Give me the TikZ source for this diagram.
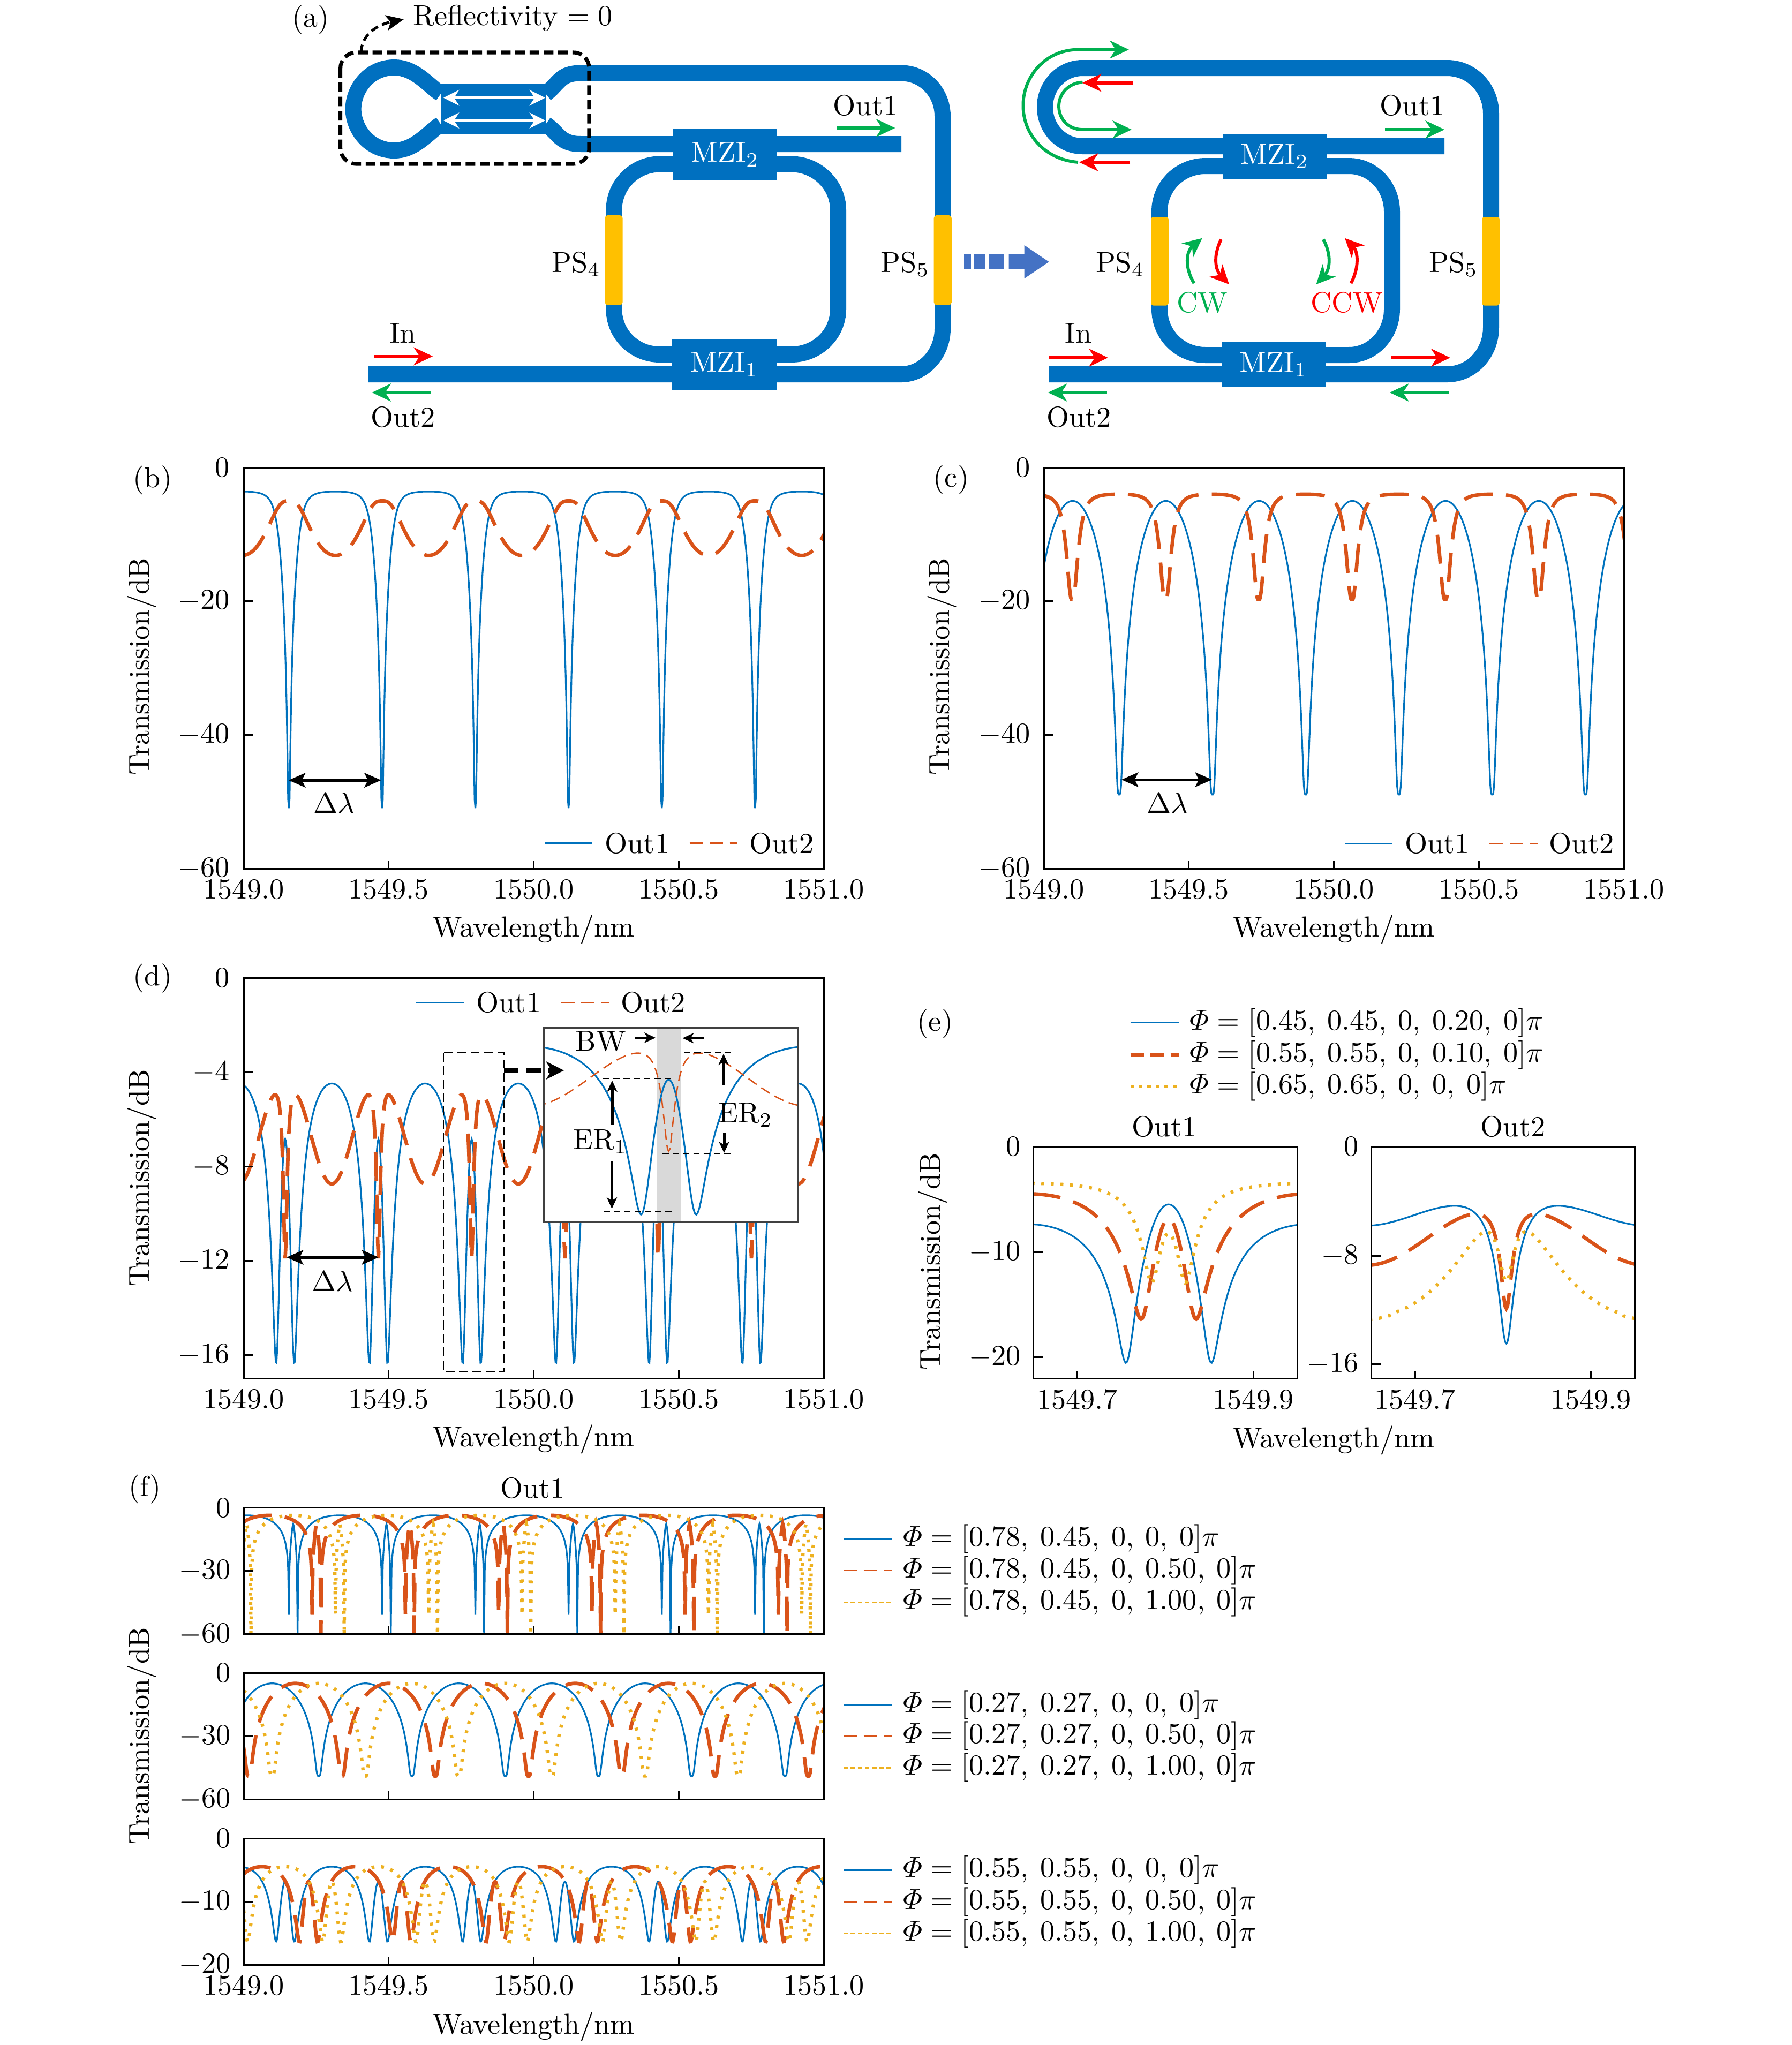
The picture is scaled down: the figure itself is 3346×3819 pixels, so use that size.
\documentclass[tikz,border=0pt]{standalone}
\usepackage{amsmath}
\usetikzlibrary{arrows.meta}
\definecolor{wgblue}{HTML}{0070C0}
\definecolor{psgold}{HTML}{FFC000}
\definecolor{bigblue}{HTML}{4472C4}
\definecolor{flowgreen}{HTML}{00B050}
\definecolor{plotb}{HTML}{0072BD}
\definecolor{plotr}{HTML}{D95319}
\definecolor{ploty}{HTML}{EDB120}
\tikzset{
  wg/.style={wgblue,line width=7.2pt},
  mzibox/.style={fill=wgblue,text=white},
  flow/.style={line width=1.4pt,-{Stealth[length=8.5pt,width=8pt,inset=2.6pt]}},
  axline/.style={black,line width=0.72pt},
  curveb/.style={plotb,line width=0.75pt},
  curver/.style={plotr,line width=1.6pt,dash pattern=on 13pt off 6pt},
  curvey/.style={ploty,line width=1.5pt,dash pattern=on 1.3pt off 3pt},
  legb/.style={plotb,line width=0.7pt},
  legr/.style={plotr,line width=0.7pt,dash pattern=on 6pt off 3pt},
  legy/.style={ploty,line width=0.7pt,dash pattern=on 2pt off 1.2pt},
  legrthick/.style={plotr,line width=1.6pt,dash pattern=on 6pt off 3pt},
  legythick/.style={ploty,line width=1.6pt,dash pattern=on 1.6pt off 2.2pt},
  dimarrow/.style={black,line width=1.2pt,{Stealth[length=7.5pt,width=6.5pt,inset=1.6pt]}-{Stealth[length=7.5pt,width=6.5pt,inset=1.6pt]}},
  erarrow/.style={black,line width=1.2pt,-{Stealth[length=5pt,width=4.6pt,inset=1.4pt]}},
  thindash/.style={black,line width=0.5pt,dash pattern=on 2.8pt off 1.8pt}
}
% one whole plot trace, index 0..1594 runs over 1549..1551 nm
\newcommand{\trace}[2]{\draw[#1] plot[domain=0:1594,samples=798] ({\x/796.2},{#2});}
\newcommand{\zoomtrace}[2]{\draw[#1] plot[domain=516:758,samples=243] ({\x/796.2},{#2});}
\newcommand{\xaxisnm}[3]{%
  \foreach \k/\lab in {0/1549.0,1/1549.5,2/1550.0,3/1550.5,4/1551.0}{
    \pgfmathsetmacro{\tx}{#2+270.75*\k}
    \node (#1x\k) at (\tx,#3+39) {\lab};
    \ifnum\k>0 \ifnum\k<4 \draw[axline] (\tx,#3) -- (\tx,#3-15); \fi\fi
  }
}
\newcommand{\xticksonly}[2]{%
  \foreach \k in {1,2,3}{\draw[axline] ({#1+270.75*\k},#2) -- ({#1+270.75*\k},#2-15);}
}
\newcommand{\yaxisdb}[4]{%
  \foreach \ty/\lab/\tk in {#4}{
    \node[anchor=east] (#1y\ty) at ({#2-#3},\ty) {$\lab$};
    \ifnum\tk=1 \draw[axline] (#2,\ty) -- ({#2+18},\ty); \fi
  }
}
\newcommand{\outlegend}[3]{%
  \draw[legb] (#2,#3) -- ({#2+89},#3);
  \node[anchor=west] (#1one) at ({#2+111.6},#3) {Out1};
  \draw[legr] ({#2+270.5},#3) -- ({#2+360},#3);
  \node[anchor=west] (#1two) at ({#2+381},#3) {Out2};
}
\newcommand{\cg}{,\kern2.3pt}
\newcommand{\phirow}[5]{%
  \draw[#4] (#2,#3) -- ({#2+91},#3);
  \node[anchor=west] (#1) at ({#2+110},#3) {$\varPhi=#5\pi$};
}
\begin{document}
\begin{tikzpicture}[x=0.24pt,y=-0.24pt,
  every node/.style={transform shape,scale=1.3,inner sep=0pt},
  declare function={
    sqq(\q)=\q*\q;
    uu(\x,\m)=sqq(sin(0.703125*(\x-\m)));
    side(\x,\m)=ifthenelse(sin(1.40625*(\x-\m))>0,.0003,.0027);
    blueB(\q)=-33.6+10*log10(1054.7*\q*\q/(\q*\q+.0547)+.018);
    redB(\q)=-5+10*log10(.178/(\q*sqrt(\q)+.178));
    blueC(\q)=-35+10*log10(1000*\q*\q+.04);
    redC(\q)=-4+10*log10(1.065*(\q*sqrt(\q)+.00166)/(\q*sqrt(\q)+.0666));
    blueD(\q)=-34.5+10*log10(1968*((\q-.0767)*(\q-.0767)+.003)/(\q*\q+.648*\q+.03));
    redD(\q)=-4+10*log10((.34+.66*(1-\q)*(.6+.4*(1-\q)))*(\q+.0027)/(\q+.0168));
    blueEa(\q)=-37.4+10*log10(2290*((\q-.2)*(\q-.2)+.004)/(\q*\q+.4*\q+.065));
    yelEa(\q)=-33.5+10*log10(1142.8*((\q-.0271)*(\q-.0271)+.00088)/(\q*\q+.077*\q+.0055));
    blueEb(\q)=-3+10*log10((.55+.45*(1-\q))*(\q+.0042)/(\q+.06));
    yelEb(\q)=-3.4+10*log10(.136/(\q+.136)*(\q+.0067)/(\q+.03));
    dipF(\q,\e)=-43.6+10*log10((sqq(100*(\q-.02153))+\e)/(\q*\q+1.65*\q+.0033)*2.78);
  }]
\useasboundingbox (0,0) rectangle (3346,3819);

% (a) left device
\node (tagA) at (580,37) {(a)};
\draw[wg] (823,175) .. controls (800,160) and (775,126) .. (736,126) .. controls (690,126) and (660,165) .. (659.6,203.6) .. controls (660,242) and (690,281) .. (736,281) .. controls (775,281) and (800,247) .. (823,232);
\fill[wgblue] (823,156) rectangle (1019.6,250);
\draw[wg] (1019,175) .. controls (1045,155) and (1045,136.5) .. (1085,136.5) -- (1683,136.5) .. controls (1725,136.5) and (1760,172) .. (1760,217) -- (1760,614) .. controls (1760,660) and (1725,699) .. (1683,699) -- (687.5,699);
\draw[wg] (1019,232) .. controls (1045,250) and (1045,269) .. (1085,269) -- (1683,269);
\draw[wg] (1257,306.5) -- (1232,306.5) .. controls (1185,306.5) and (1146.4,345) .. (1146.4,392) -- (1146.4,577) .. controls (1146.4,625) and (1185,662) .. (1232,662) -- (1255,662);
\draw[wg] (1451,306.5) -- (1478,306.5) .. controls (1525,306.5) and (1565,345) .. (1565,392) -- (1565,577) .. controls (1565,625) and (1525,662) .. (1478,662) -- (1450,662);
\draw[white,line width=1.3pt,{Stealth[length=7pt,width=7pt]}-{Stealth[length=7pt,width=7pt]}] (828,182.6) -- (1018,182.6);
\draw[white,line width=1.3pt,{Stealth[length=7pt,width=7pt]}-{Stealth[length=7pt,width=7pt]}] (828,225) -- (1018,225);
\node[mzibox,minimum width=35.85pt,minimum height=17.54pt] (mziTwoL) at (1354,288.5) {MZI$_2$};
\node[mzibox,minimum width=36pt,minimum height=17.54pt] (mziOneL) at (1352.5,680.5) {MZI$_1$};
\fill[psgold,rounded corners=1.2pt] (1129.5,402) rectangle (1162.5,569.6);
\fill[psgold,rounded corners=1.2pt] (1743.7,402) rectangle (1776.8,569.6);
\draw[black,line width=1.7pt,dash pattern=on 4.3pt off 2.1pt,rounded corners=7pt] (635.7,98) rectangle (1100,306);
\draw[black,line width=1.2pt,dash pattern=on 3.5pt off 2pt,-{Stealth[length=8pt,width=7pt,inset=2pt]}] (674,98) .. controls (676,60) and (710,45) .. (754,36);
\node[anchor=west] (reflect) at (770.5,34.4) {Reflectivity $=0$};
\node (psFourL) at (1076,493) {PS$_4$};
\node (psFiveL) at (1690,493) {PS$_5$};
\node (outOneL) at (1616,197) {Out1};
\node (inL) at (752,622) {In};
\node (outTwoL) at (752.7,779) {Out2};
\draw[flow,flowgreen] (1562.5,239) -- (1671.4,239);
\draw[flow,red] (698,665.4) -- (808,665.4);
\draw[flow,flowgreen] (805,733) -- (694.6,733);

% dashed block arrow
\foreach \xa/\xb in {1799.5/1812.5,1818.6/1840,1847/1874.4}{
  \fill[bigblue] (\xa,475) rectangle (\xb,502.4);
}
\fill[bigblue] (1883.6,475) -- (1912.7,475) -- (1912.7,458) -- (1958.6,489) -- (1912.7,520) -- (1912.7,502.4) -- (1883.6,502.4) -- cycle;

% (a) right device
\draw[wg] (2697,273) -- (2021,273) .. controls (1982,273) and (1951,240) .. (1951,200) .. controls (1951,160) and (1982,127) .. (2021,127) -- (2702,127) .. controls (2748,127) and (2784,165) .. (2784,212) -- (2784,611) .. controls (2784,660) and (2748,699) .. (2702,699) -- (1958.6,699);
\draw[wg] (2284,310) -- (2251,310) .. controls (2203,310) and (2165,348) .. (2165,395) -- (2165,577) .. controls (2165,625) and (2203,663) .. (2251,663) -- (2282,663);
\draw[wg] (2476,310) -- (2518.7,310) .. controls (2563,310) and (2599,348) .. (2599,395) -- (2599,577) .. controls (2599,625) and (2563,663) .. (2518.7,663) -- (2475,663);
\node[mzibox,minimum width=35.6pt,minimum height=15.54pt] (mziTwoR) at (2380.2,292) {MZI$_2$};
\node[mzibox,minimum width=35.7pt,minimum height=15.46pt] (mziOneR) at (2378,680.8) {MZI$_1$};
\fill[psgold,rounded corners=1.2pt] (2149,405) rectangle (2182,570.7);
\fill[psgold,rounded corners=1.2pt] (2767,405) rectangle (2800,570.7);
\node (psFourR) at (2091.7,493) {PS$_4$};
\node (psFiveR) at (2713.8,493) {PS$_5$};
\node (outOneR) at (2637,197) {Out1};
\node (inR) at (2013.7,622) {In};
\node (outTwoR) at (2014.5,779) {Out2};
\node[text=flowgreen] (cwL) at (2244.8,565) {CW};
\node[text=red] (ccwL) at (2514.8,565) {CCW};
\draw[flow,flowgreen] (2586,242) -- (2697,242);
\draw[flow,red] (1958.6,668) -- (2068.8,668);
\draw[flow,flowgreen] (2067,733) -- (1957,733);
\draw[flow,red] (2597.5,668) -- (2707.7,668);
\draw[flow,flowgreen] (2706,733) -- (2595,733);
\draw[flow,flowgreen] (2013,303) .. controls (1950,298) and (1910,250) .. (1910.4,197) .. controls (1910,145) and (1950,93) .. (2013,92.6) -- (2107.8,92.6);
\draw[flow,flowgreen] (2021.4,153.5) .. controls (1995,155) and (1977,175) .. (1977,198.5) .. controls (1977,222) and (1995,242) .. (2021,242) -- (2113,242);
\draw[flow,red] (2116,154.6) -- (2021,154.6);
\draw[flow,red] (2110,303) -- (2015,303);
\draw[flow,flowgreen] (2229.5,529) .. controls (2212,500) and (2214,470) .. (2244.8,444.7);
\draw[flow,red] (2280,447) .. controls (2264,480) and (2270,505) .. (2295,531);
\draw[flow,flowgreen] (2471,447) .. controls (2488,480) and (2482,505) .. (2457.5,531);
\draw[flow,red] (2522.5,529) .. controls (2538,500) and (2536,470) .. (2511,444.7);

% (b)
\node (tagB) at (285,897) {(b)};
\begin{scope}[shift={(455,873)},x=129.96pt,y=2.995pt]
  \clip (0,0) rectangle (2,-60);
  \trace{curveb}{blueB(uu(\x,124))}
  \draw[curver] plot[domain=0:1596,samples=400] ({\x/796.2},{redB(uu(\x,124))});
\end{scope}
\draw[axline] (455,873) rectangle (1538,1622);
\xaxisnm{b}{455}{1622}
\yaxisdb{b}{455}{25}{873/0/0,1122.6/-20/1,1372/-40/1,1622/-60/0}
\node[rotate=90] (ylabB) at (265,1245) {Transmission/dB};
\node (xlabB) at (996,1736) {Wavelength/nm};
\outlegend{legB}{1017}{1574.5}
\draw[dimarrow] (539,1457) -- (711.6,1457);
\node (fsrB) at (624,1500) {$\Delta\lambda$};

% (c)
\node (tagC) at (1776,896) {(c)};
\begin{scope}[shift={(1949,873)},x=129.96pt,y=2.995pt]
  \clip (0,0) rectangle (2,-60);
  \trace{curveb}{blueC(uu(\x,207))}
  \trace{curver}{redC(uu(\x,78))}
\end{scope}
\draw[axline] (1949,873) rectangle (3032,1622);
\xaxisnm{c}{1949}{1622}
\yaxisdb{c}{1949}{24}{873/0/0,1122.6/-20/1,1372/-40/1,1622/-60/0}
\node[rotate=90] (ylabC) at (1759,1245) {Transmission/dB};
\node (xlabC) at (2490,1736) {Wavelength/nm};
\outlegend{legC}{2510.7}{1575}
\draw[dimarrow] (2094,1456) -- (2263,1456);
\node (fsrC) at (2179.5,1500) {$\Delta\lambda$};

% (d)
\node (tagD) at (285,1827) {(d)};
\begin{scope}[shift={(455,1826)},x=129.96pt,y=10.56pt]
  \clip (0,0) rectangle (2,-17);
  \trace{curveb}{blueD(uu(\x,114))}
  \trace{curver}{redD(uu(\x,114))}
\end{scope}
\draw[axline] (455,1826) rectangle (1538,2574);
\xaxisnm{d}{455}{2574}
\yaxisdb{d}{455}{25}{1826/0/0,2002/-4/1,2178/-8/1,2354/-12/1,2530.6/-16/1}
\node[rotate=90] (ylabD) at (265,2200) {Transmission/dB};
\node (xlabD) at (996,2688) {Wavelength/nm};
\outlegend{legD}{777}{1872}
\draw[dimarrow] (535,2348) -- (707,2348);
\node (fsrD) at (621,2393) {$\Delta\lambda$};
\draw[black,line width=0.5pt,dash pattern=on 4pt off 2pt] (827.7,1966) rectangle (941,2561.5);
% inset of (d)
\fill[white] (1015,1919) rectangle (1490.8,2281);
\fill[gray!30] (1225.5,1919) rectangle (1272,2281);
\begin{scope}[shift={(1248.5,1835.6)},x=394.8pt,y=6.336pt]
  \clip (-0.14195,-3.159) rectangle (0.1473,-16.87);
  \draw[curveb] plot[domain=-120:120,samples=241] ({\x/796.2},{blueD(uu(\x,0))});
  \draw[plotr,line width=0.6pt,dash pattern=on 4.5pt off 2.5pt] plot[domain=-120:120,samples=241] ({\x/796.2},{redD(uu(\x,0))});
\end{scope}
\draw[black!75,line width=0.72pt] (1015,1919) rectangle (1490.8,2281);
\coordinate (zoomFrom) at (941,1999);
\coordinate (zoomTo) at (1053,1999);
\draw[black,line width=1.7pt,dash pattern=on 6.5pt off 3.5pt,-{Stealth[length=8pt,width=8pt,inset=2.4pt]}] (zoomFrom) -- (zoomTo);
\node (bwLab) at (1122,1945) {BW};
\draw[erarrow] (1185,1938) -- (1224,1938);
\draw[erarrow] (1313.6,1938.7) -- (1274.5,1938.7);
\draw[thindash] (1277,1965) -- (1369,1965);
\draw[thindash] (1126,2013.7) -- (1259,2013.7);
\draw[thindash] (1237,2155) -- (1371,2155);
\draw[thindash] (1127,2261.7) -- (1261,2261.7);
\draw[erarrow] (1143,2100) -- (1143,2018);
\draw[erarrow] (1142.5,2168) -- (1142.5,2257);
\node (erOne) at (1121,2132) {ER$_1$};
\node (erTwo) at (1392,2082) {ER$_2$};
\draw[erarrow] (1351,2026) -- (1351,1968);
\draw[erarrow] (1352,2115) -- (1352,2153);

% (e)
\node (tagE) at (1746,1912) {(e)};
\phirow{phiEa}{2110.7}{1910}{legb}{[0.45\cg 0.45\cg 0\cg 0.20\cg 0]}
\phirow{phiEb}{2110.7}{1970}{legrthick}{[0.55\cg 0.55\cg 0\cg 0.10\cg 0]}
\phirow{phiEc}{2110.7}{2029}{legythick}{[0.65\cg 0.65\cg 0\cg 0\cg 0]}
\node (titleEa) at (2174,2104) {Out1};
\node (titleEb) at (2825,2104) {Out2};
\begin{scope}[shift={(862.2,2141)},x=394.08pt,y=4.723pt]
  \clip (0.65,0) rectangle (0.95,-22);
  \zoomtrace{curveb}{blueEa(uu(\x,640))}
  \zoomtrace{curver}{blueD(uu(\x,640))}
  \zoomtrace{curvey}{yelEa(uu(\x,640))}
\end{scope}
\draw[axline] (1929.5,2141) rectangle (2422,2574.5);
\begin{scope}[shift={(1492.7,2141)},x=394.08pt,y=6.096pt]
  \clip (0.65,0) rectangle (0.95,-17);
  \zoomtrace{curveb}{blueEb(uu(\x,640))}
  \zoomtrace{curver}{redD(uu(\x,640))}
  \zoomtrace{curvey}{yelEb(uu(\x,640))}
\end{scope}
\draw[axline] (2560,2141) rectangle (3052,2574.5);
\foreach \tx/\lab/\nm in {2011.6/1549.7/a,2340/1549.9/b,2642/1549.7/c,2970.5/1549.9/d}{
  \draw[axline] (\tx,2574.5) -- (\tx,2559.5);
  \node (xe\nm) at (\tx,2613.5) {\lab};
}
\yaxisdb{ea}{1929.5}{22.5}{2141/0/0,2338/-10/1,2534/-20/1}
\yaxisdb{eb}{2560}{22.5}{2141/0/0,2345/-8/1,2547.5/-16/1}
\node[rotate=90] (ylabE) at (1741.5,2356) {Transmission/dB};
\node (xlabE) at (2490,2690) {Wavelength/nm};

% (f)
\node (tagF) at (271,2781) {(f)};
\node (titleF) at (994.6,2779) {Out1};
\begin{scope}[shift={(455,2815.7)},x=129.96pt,y=0.9444pt]
  \clip (0,0) rectangle (2,-60);
  \trace{curveb}{dipF(uu(\x,136),side(\x,136))}
  \trace{curver}{dipF(uu(\x,200),side(\x,200))}
  \trace{curvey}{dipF(uu(\x,264),side(\x,264))}
\end{scope}
\draw[axline] (455,2815.7) rectangle (1538,3051.8);
\xticksonly{455}{3051.8}
\yaxisdb{fa}{455}{23}{2815.7/0/0,2933.7/-30/1,3051.8/-60/0}
\begin{scope}[shift={(455,3124)},x=129.96pt,y=0.9444pt]
  \clip (0,0) rectangle (2,-60);
  \trace{curveb}{blueC(uu(\x,206))}
  \trace{curver}{blueC(uu(\x,270))}
  \trace{curvey}{blueC(uu(\x,334))}
\end{scope}
\draw[axline] (455,3124) rectangle (1538,3360);
\xticksonly{455}{3360}
\yaxisdb{fb}{455}{23}{3124/0/0,3242/-30/1,3360/-60/0}
\begin{scope}[shift={(455,3433)},x=129.96pt,y=2.832pt]
  \clip (0,0) rectangle (2,-20);
  \trace{curveb}{blueD(uu(\x,114))}
  \trace{curver}{blueD(uu(\x,178))}
  \trace{curvey}{blueD(uu(\x,242))}
\end{scope}
\draw[axline] (455,3433) rectangle (1538,3669);
\xaxisnm{f}{455}{3669}
\yaxisdb{fc}{455}{23}{3433/0/0,3551/-10/1,3669/-20/0}
\node[rotate=90] (ylabF) at (265,3242) {Transmission/dB};
\node (xlabF) at (996,3785) {Wavelength/nm};
\phirow{phiFa}{1575}{2873.6}{legb}{[0.78\cg 0.45\cg 0\cg 0\cg 0]}
\phirow{phiFb}{1575}{2933}{legr}{[0.78\cg 0.45\cg 0\cg 0.50\cg 0]}
\phirow{phiFc}{1575}{2992}{legy}{[0.78\cg 0.45\cg 0\cg 1.00\cg 0]}
\phirow{phiFd}{1575}{3183.5}{legb}{[0.27\cg 0.27\cg 0\cg 0\cg 0]}
\phirow{phiFe}{1575}{3242}{legr}{[0.27\cg 0.27\cg 0\cg 0.50\cg 0]}
\phirow{phiFf}{1575}{3301}{legy}{[0.27\cg 0.27\cg 0\cg 1.00\cg 0]}
\phirow{phiFg}{1575}{3492}{legb}{[0.55\cg 0.55\cg 0\cg 0\cg 0]}
\phirow{phiFh}{1575}{3551.5}{legr}{[0.55\cg 0.55\cg 0\cg 0.50\cg 0]}
\phirow{phiFi}{1575}{3610.7}{legy}{[0.55\cg 0.55\cg 0\cg 1.00\cg 0]}
\end{tikzpicture}
\end{document}
